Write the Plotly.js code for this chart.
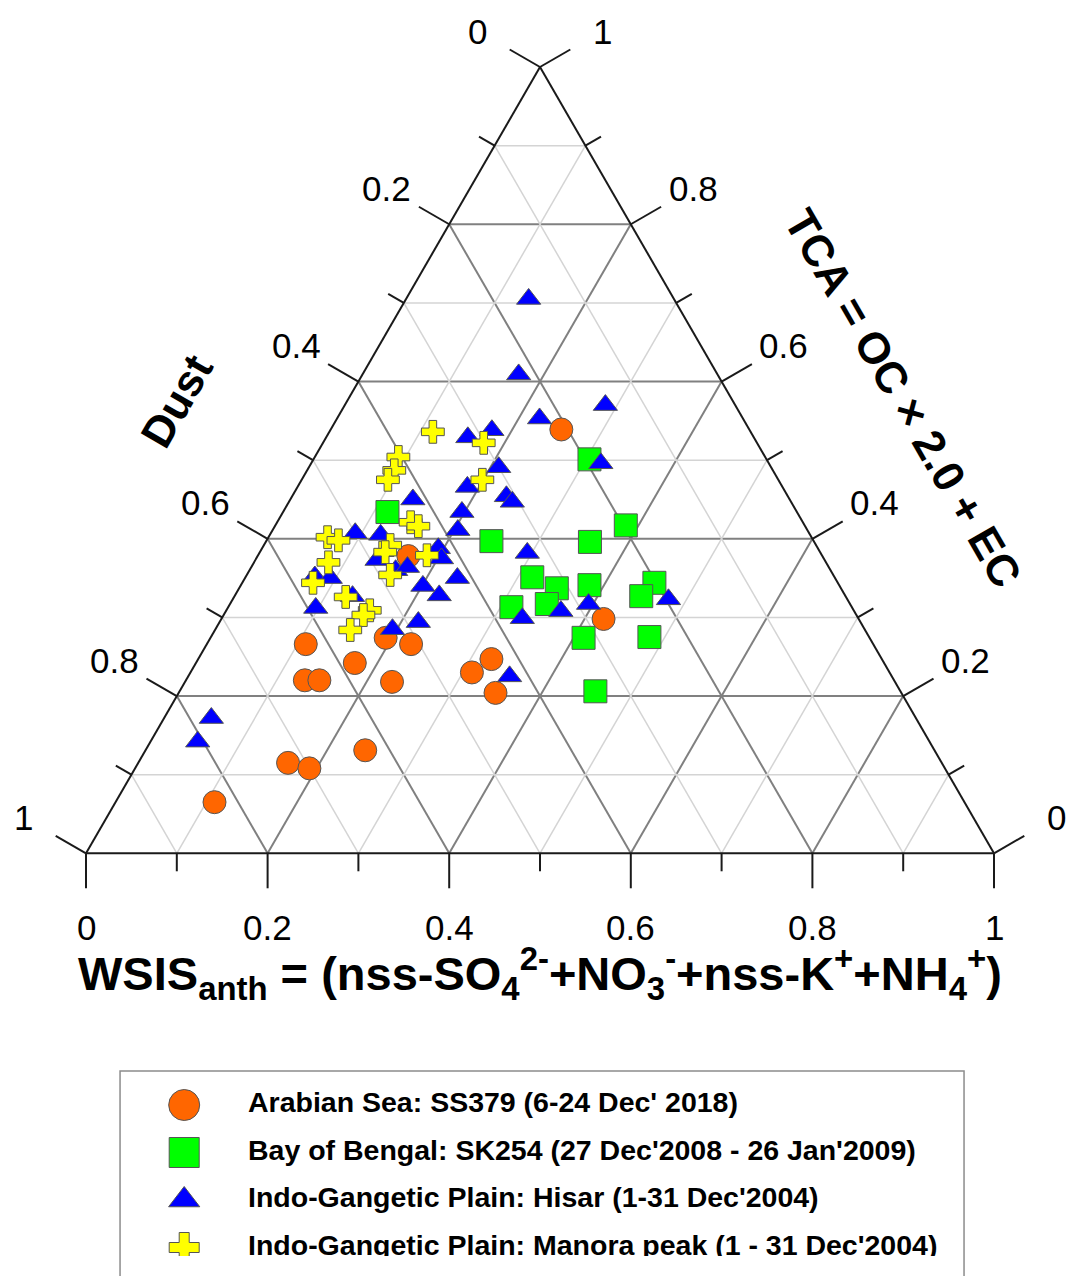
<!DOCTYPE html>
<html>
<head>
<meta charset="utf-8">
<script src="https://cdn.plot.ly/plotly-3.0.1.min.js"></script>
<style>
html, body { margin: 0; padding: 0; background: #ffffff; }
#chart { width: 1068px; height: 1276px; }
</style>
</head>
<body>
<div id="chart"></div>
<script>
// ---------- data (fractions: TCA + Dust + WSIS = 1) ----------
// Arabian Sea: SS379 (6-24 Dec' 2018)
const arabianTCA  = [0.539, 0.378, 0.298, 0.266, 0.274, 0.266, 0.220, 0.220, 0.242, 0.218, 0.230, 0.247, 0.204, 0.131, 0.115, 0.108, 0.065];
const arabianWSIS = [0.254, 0.166, 0.421, 0.109, 0.193, 0.225, 0.131, 0.147, 0.175, 0.228, 0.310, 0.323, 0.349, 0.242, 0.165, 0.192, 0.109];
const arabianDust = [0.207, 0.456, 0.281, 0.625, 0.533, 0.509, 0.649, 0.633, 0.583, 0.554, 0.460, 0.430, 0.447, 0.627, 0.720, 0.700, 0.826];

// Bay of Bengal: SK254 (27 Dec'2008 - 26 Jan'2009)
const bengalTCA  = [0.501, 0.434, 0.417, 0.397, 0.396, 0.351, 0.337, 0.341, 0.344, 0.327, 0.313, 0.317, 0.274, 0.275, 0.206];
const bengalWSIS = [0.304, 0.115, 0.386, 0.248, 0.357, 0.316, 0.350, 0.384, 0.454, 0.448, 0.312, 0.349, 0.411, 0.483, 0.458];
const bengalDust = [0.195, 0.451, 0.197, 0.355, 0.247, 0.333, 0.313, 0.275, 0.202, 0.225, 0.375, 0.334, 0.315, 0.242, 0.336];

// Indo-Gangetic Plain: Hisar (1-31 Dec'2004)
const hisarTCA  = [0.705, 0.609, 0.570, 0.553, 0.538, 0.529, 0.496, 0.491, 0.466, 0.454, 0.447, 0.450, 0.434, 0.411, 0.407, 0.382, 0.388, 0.375, 0.405, 0.373, 0.360, 0.364, 0.352, 0.350, 0.350, 0.340, 0.328, 0.327, 0.312, 0.308, 0.317, 0.323, 0.299, 0.294, 0.285, 0.225, 0.172, 0.142];
const hisarWSIS = [0.135, 0.172, 0.287, 0.223, 0.178, 0.156, 0.319, 0.209, 0.187, 0.236, 0.246, 0.135, 0.197, 0.204, 0.093, 0.295, 0.194, 0.204, 0.122, 0.134, 0.161, 0.172, 0.076, 0.094, 0.234, 0.201, 0.225, 0.130, 0.097, 0.369, 0.395, 0.480, 0.331, 0.219, 0.195, 0.354, 0.052, 0.052];
const hisarDust = [0.160, 0.219, 0.143, 0.224, 0.284, 0.315, 0.185, 0.300, 0.347, 0.310, 0.307, 0.415, 0.369, 0.385, 0.500, 0.323, 0.418, 0.421, 0.473, 0.493, 0.479, 0.464, 0.572, 0.556, 0.416, 0.459, 0.447, 0.543, 0.591, 0.323, 0.288, 0.197, 0.370, 0.487, 0.520, 0.421, 0.776, 0.806];

// Indo-Gangetic Plain: Manora peak (1 - 31 Dec'2004)
const manoraTCA  = [0.536, 0.522, 0.504, 0.487, 0.475, 0.475, 0.421, 0.416, 0.402, 0.398, 0.392, 0.383, 0.379, 0.370, 0.354, 0.344, 0.326, 0.309, 0.303, 0.284];
const manoraWSIS = [0.114, 0.177, 0.092, 0.096, 0.095, 0.199, 0.147, 0.158, 0.065, 0.079, 0.139, 0.138, 0.186, 0.082, 0.158, 0.078, 0.123, 0.158, 0.154, 0.149];
const manoraDust = [0.350, 0.301, 0.404, 0.417, 0.430, 0.326, 0.432, 0.426, 0.533, 0.523, 0.469, 0.479, 0.435, 0.548, 0.488, 0.578, 0.551, 0.533, 0.543, 0.567];

const seriesNames = [
  "Arabian Sea: SS379 (6-24 Dec' 2018)",
  "Bay of Bengal: SK254 (27 Dec'2008 - 26 Jan'2009)",
  "Indo-Gangetic Plain: Hisar (1-31 Dec'2004)",
  "Indo-Gangetic Plain: Manora peak (1 - 31 Dec'2004)"
];
const legendRows = [0, 1, 2, 3];

// axis ticks (same scale on all three axes)
const majorTicks = [0, 0.2, 0.4, 0.6, 0.8, 1];
const majorTickLabels = ["0", "0.2", "0.4", "0.6", "0.8", "1"];
const minorTicks = [0.1, 0.3, 0.5, 0.7, 0.9];

// ---------- styling / geometry ----------
const FONT = "Liberation Sans, Arial, Helvetica, sans-serif";
const PW = 908, PH = 1189;       // plot-area size in px
const Y0 = 0.3387;               // bottom of ternary domain (paper)
const styles = [
  {symbol: "circle",      color: "#ff6600", size: 23, lsize: 31},
  {symbol: "square",      color: "#00ff00", size: 23, lsize: 30},
  {symbol: "triangle-up", color: "#0000ff", size: 21, lsize: 27},
  {symbol: "cross",       color: "#ffff00", size: 19, lsize: 25}
];

// paper position of a ternary point given TCA (a) and WSIS (c)
function toPaper(a, c) { return [c + a / 2, Y0 + a * (1 - Y0)]; }
// the three edges: point on the edge for axis value v, and outward normal (screen px)
const edges = [
  {pt: v => toPaper(1 - v, 0), n: [-0.8660, -0.5], dist: 72},  // Dust, left edge
  {pt: v => toPaper(v, 1 - v), n: [0.8660, -0.5], dist: 72},   // TCA, right edge
  {pt: v => toPaper(0, v),     n: [0, 1],          dist: 74}    // WSIS, bottom edge
];
function offset(p, n, d) { return [p[0] + n[0] * d / PW, p[1] - n[1] * d / PH]; }

const shapes = [];
const annotations = [];
edges.forEach(e => {
  [[majorTicks, 35], [minorTicks, 18]].forEach(([vals, len]) => {
    vals.forEach(v => {
      const p = e.pt(v), q = offset(p, e.n, len);
      shapes.push({type: "line", xref: "paper", yref: "paper", x0: p[0], y0: p[1], x1: q[0], y1: q[1],
        line: {color: "#1a1a1a", width: 2}});
    });
  });
  majorTicks.forEach((v, i) => {
    const q = offset(e.pt(v), e.n, e.dist);
    annotations.push({xref: "paper", yref: "paper", x: q[0], y: q[1], text: majorTickLabels[i],
      showarrow: false, xanchor: "center", yanchor: "middle",
      font: {family: FONT, size: 35, color: "#000000"}});
  });
});

// legend frame
shapes.push({type: "rect", xref: "paper", yref: "paper",
  x0: 0.0375, x1: 0.967, y0: -0.06, y1: 0.1556,
  line: {color: "#8c8c8c", width: 1.5}, fillcolor: "rgba(0,0,0,0)"});

// axis titles
annotations.push(
  {xref: "paper", yref: "paper", x: 0.1003, y: 0.7191, text: "<b>Dust</b>", textangle: -60,
   showarrow: false, xanchor: "center", yanchor: "middle", font: {family: FONT, size: 44, color: "#000"}},
  {xref: "paper", yref: "paper", x: 0.9008, y: 0.7216, text: "<b>TCA = OC × 2.0 + EC</b>", textangle: 60,
   showarrow: false, xanchor: "center", yanchor: "middle", font: {family: FONT, size: 44, color: "#000"}},
  {xref: "paper", yref: "paper", x: 0.5, y: 0.2380,
   text: "<b>WSIS<sub>anth</sub> = (nss-SO<sub>4</sub><sup>2-</sup>+NO<sub>3</sub><sup>-</sup>+nss-K<sup>+</sup>+NH<sub>4</sub><sup>+</sup>)</b>",
   showarrow: false, xanchor: "center", yanchor: "middle", font: {family: FONT, size: 47, color: "#000"}}
);

// ---------- traces ----------
function gridLines(vals) {
  const a = [], b = [], c = [];
  vals.forEach(v => {
    a.push(v, v, null); b.push(1 - v, 0, null); c.push(0, 1 - v, null);
    a.push(1 - v, 0, null); b.push(v, v, null); c.push(0, 1 - v, null);
    a.push(1 - v, 0, null); b.push(0, 1 - v, null); c.push(v, v, null);
  });
  return {a, b, c};
}
const traces = [];
const mg = gridLines(minorTicks);
traces.push({type: "scatterternary", mode: "lines", a: mg.a, b: mg.b, c: mg.c,
  line: {color: "#d4d4d4", width: 1.5}, hoverinfo: "skip", showlegend: false, connectgaps: false});

const series = [
  [arabianTCA, arabianDust, arabianWSIS],
  [bengalTCA, bengalDust, bengalWSIS],
  [hisarTCA, hisarDust, hisarWSIS],
  [manoraTCA, manoraDust, manoraWSIS]
];
[1, 0, 2, 3].forEach(k => {
  const s = styles[k];
  traces.push({
    type: "scatterternary", mode: "markers", name: seriesNames[k],
    a: series[k][0], b: series[k][1], c: series[k][2],
    marker: {symbol: s.symbol, color: s.color, size: s.size, line: {color: "#555555", width: 1}},
    showlegend: false, hoverinfo: "skip"
  });
});

// custom legend (helper cartesian axes)
styles.forEach((s, k) => {
  traces.push({
    type: "scatter", mode: "markers", x: [0.076], y: [legendRows[k]], xaxis: "x", yaxis: "y",
    marker: {symbol: s.symbol, color: s.color, size: s.lsize, line: {color: "#555555", width: 1}},
    showlegend: false, hoverinfo: "skip"
  });
});
traces.push({
  type: "scatter", mode: "text", x: legendRows.map(() => 0.1516), y: legendRows, text: seriesNames,
  textposition: "middle right", xaxis: "x", yaxis: "y",
  textfont: {family: FONT, size: 28.5, color: "#000000", weight: "bold"},
  showlegend: false, hoverinfo: "skip"
});

const axisCfg = {
  title: {text: ""},
  min: 0,
  tickmode: "array", tickvals: majorTicks,
  ticks: "", showticklabels: false,
  showline: true, linecolor: "#1a1a1a", linewidth: 2,
  showgrid: true, gridcolor: "#808080", gridwidth: 2
};

const layout = {
  width: 1068, height: 1276, autosize: false,
  margin: {l: 86, r: 74, t: 67, b: 20, pad: 0},
  paper_bgcolor: "#ffffff", plot_bgcolor: "#ffffff",
  showlegend: false,
  ternary: {
    sum: 1,
    domain: {x: [0, 1], y: [Y0, 1]},
    bgcolor: "#ffffff",
    aaxis: axisCfg, baxis: axisCfg, caxis: axisCfg
  },
  xaxis: {domain: [0.0375, 0.967], range: [0, 1], visible: false, fixedrange: true},
  yaxis: {domain: [0, 0.1556], range: [3.179, -0.716], visible: false, fixedrange: true},
  shapes: shapes,
  annotations: annotations
};

Plotly.newPlot("chart", traces, layout, {staticPlot: true, displayModeBar: false});
</script>
</body>
</html>
